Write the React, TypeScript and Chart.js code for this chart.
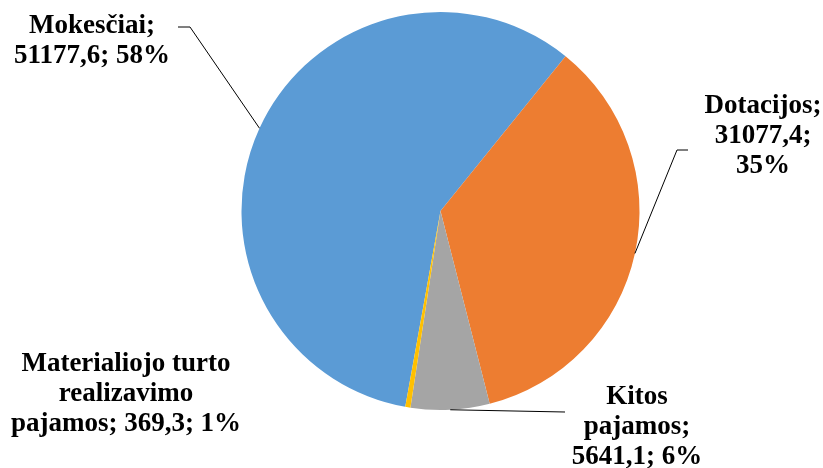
import React, { useEffect, useRef } from "react";
import { Chart, registerables } from "chart.js";

Chart.register(...registerables);

const categories = ["Mokesčiai", "Dotacijos", "Kitos pajamos", "Materialiojo turto realizavimo pajamos"];
const values = [51177.6, 31077.4, 5641.1, 369.3];
const valueLabels = ["51177,6", "31077,4", "5641,1", "369,3"];
const percentLabels = ["58%", "35%", "6%", "1%"];
const colors = ["#5B9BD5", "#ED7D31", "#A5A5A5", "#FFC000"];

// label layout (canvas px): text centre x, first baseline y, wrap width, leader end/elbow
const labelLayout = [
  { x: 92, y: 33, wrap: 170, end: [178, 27], elbow: [190, 27] },
  { x: 763, y: 113, wrap: 135, end: [688, 150], elbow: [677, 150] },
  { x: 637, y: 404, wrap: 150, end: [565, 412], elbow: null },
  { x: 126, y: 371, wrap: 238, end: null, elbow: null },
];

const FONT = 'bold 27px "Liberation Serif", "Times New Roman", serif';
const LINE_H = 30;

function wrapText(ctx: CanvasRenderingContext2D, text: string, maxW: number): string[] {
  const words = text.split(" ");
  const lines: string[] = [];
  let cur = "";
  for (const w of words) {
    const test = cur ? cur + " " + w : w;
    if (cur && ctx.measureText(test).width > maxW) {
      lines.push(cur);
      cur = w;
    } else {
      cur = test;
    }
  }
  if (cur) lines.push(cur);
  return lines;
}

const labelPlugin = {
  id: "pieLabels",
  afterDraw(chart: any) {
    const ctx = chart.ctx as CanvasRenderingContext2D;
    const meta = chart.getDatasetMeta(0);
    ctx.save();
    ctx.font = FONT;
    ctx.fillStyle = "#000";
    ctx.strokeStyle = "#000";
    ctx.lineWidth = 1;
    ctx.textAlign = "center";
    ctx.textBaseline = "alphabetic";
    meta.data.forEach((arc: any, i: number) => {
      const p = arc.getProps(["x", "y", "startAngle", "endAngle", "outerRadius"], true);
      const mid = (p.startAngle + p.endAngle) / 2;
      const ax = p.x + Math.cos(mid) * p.outerRadius;
      const ay = p.y + Math.sin(mid) * p.outerRadius;
      const L = labelLayout[i];
      if (L.end) {
        ctx.beginPath();
        ctx.moveTo(L.end[0], L.end[1]);
        if (L.elbow) ctx.lineTo(L.elbow[0], L.elbow[1]);
        ctx.lineTo(ax, ay);
        ctx.stroke();
      }
      const text = `${categories[i]}; ${valueLabels[i]}; ${percentLabels[i]}`;
      const lines = wrapText(ctx, text, L.wrap);
      lines.forEach((ln, k) => ctx.fillText(ln, L.x, L.y + k * LINE_H));
    });
    ctx.restore();
  },
};

export default function App() {
  const ref = useRef<HTMLCanvasElement | null>(null);
  useEffect(() => {
    document.body.style.margin = "0";
    const chart = new Chart(ref.current!, {
      type: "pie",
      data: {
        labels: categories,
        datasets: [
          {
            data: values,
            backgroundColor: colors,
            borderWidth: 0,
            hoverBorderWidth: 0,
            hoverOffset: 0,
            offset: 0,
          },
        ],
      },
      options: {
        animation: false,
        responsive: false,
        rotation: 190.2,
        layout: { padding: { top: 12, bottom: 58, left: 58, right: 0 } },
        plugins: { legend: { display: false }, tooltip: { enabled: false } },
        events: [],
      },
      plugins: [labelPlugin],
    });
    return () => chart.destroy();
  }, []);
  return (
    <div style={{ width: 823, height: 468, background: "#fff" }}>
      <canvas ref={ref} width={823} height={468} style={{ display: "block" }} />
    </div>
  );
}
